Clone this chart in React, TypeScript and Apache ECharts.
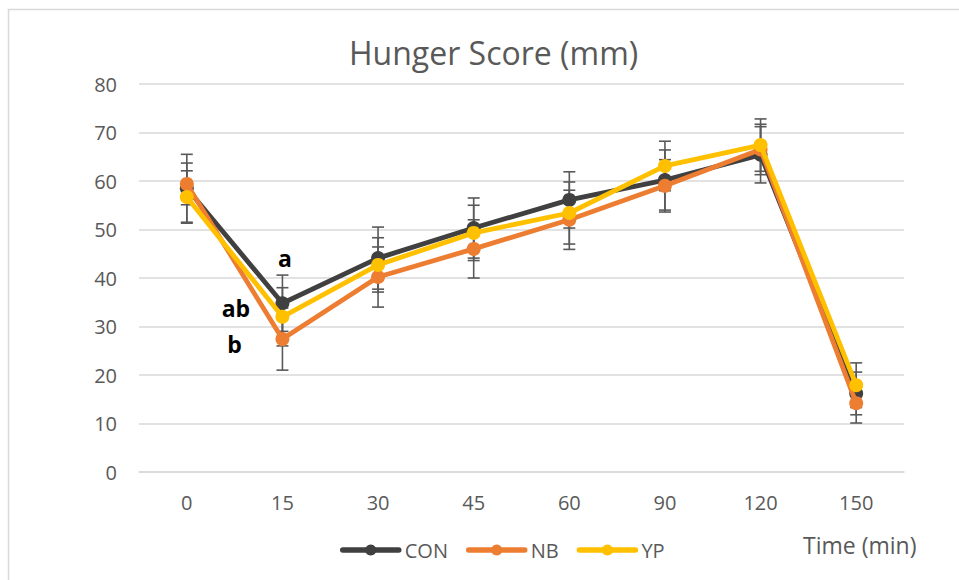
import React, { useEffect, useRef } from "react";
import * as echarts from "echarts";

const categories = ["0", "15", "30", "45", "60", "90", "120", "150"];
const seriesNames = ["CON", "NB", "YP"];
const conMean = [58.5, 34.8, 44.1, 50.3, 56.1, 60.2, 65.4, 16.2];
const nbMean = [59.4, 27.4, 40.2, 46.0, 52.0, 59.0, 66.5, 14.2];
const ypMean = [56.7, 32.0, 42.7, 49.3, 53.4, 63.1, 67.4, 17.9];
const conSD = [7.0, 5.8, 6.4, 6.2, 5.8, 6.2, 5.8, 4.4];
const nbSD = [4.3, 6.4, 6.2, 6.0, 6.1, 5.4, 5.2, 4.1];
const ypSD = [5.4, 6.0, 5.6, 5.7, 6.4, 5.1, 5.4, 4.6];
const conSig = ["", "a", "", "", "", "", "", ""];
const nbSig = ["", "b", "", "", "", "", "", ""];
const ypSig = ["", "ab", "", "", "", "", "", ""];
const yTicks = { min: 0, max: 80, interval: 10 };
const titleText = "Hunger Score (mm)";
const xAxisTitle = "Time (min)";

const FONT = "'Open Sans', sans-serif";
const TEXT = "#595959";
const GRID = "#d9d9d9";

const colors = ["#404040", "#ED7D31", "#FFC000"];
const means = [conMean, nbMean, ypMean];
const sds = [conSD, nbSD, ypSD];
const sigs = [conSig, nbSig, ypSig];
const sigOffsets: [number, number][] = [
  [2.5, -45],
  [-48, 5],
  [-46.5, -9],
];

export default function App() {
  const ref = useRef<HTMLDivElement>(null);
  useEffect(() => {
    if (!ref.current) return;
    const chart = echarts.init(ref.current, null, { renderer: "svg" });

    const errorSeries = means.map((m, si) => ({
      type: "custom",
      name: seriesNames[si] + "-err",
      z: 1,
      silent: true,
      encode: { x: 0, y: [1, 2] },
      data: m.map((v, i) => [i, v - sds[si][i], v + sds[si][i]]),
      renderItem: (params: any, api: any) => {
        const x = api.value(0);
        const lo = api.coord([x, api.value(1)]);
        const hi = api.coord([x, api.value(2)]);
        const w = 6;
        const style = { stroke: "#595959", lineWidth: 1.6 };
        return {
          type: "group",
          children: [
            { type: "line", shape: { x1: lo[0], y1: lo[1], x2: hi[0], y2: hi[1] }, style },
            { type: "line", shape: { x1: lo[0] - w, y1: lo[1], x2: lo[0] + w, y2: lo[1] }, style },
            { type: "line", shape: { x1: hi[0] - w, y1: hi[1], x2: hi[0] + w, y2: hi[1] }, style },
          ],
        };
      },
    }));

    const lineSeries = means.map((m, si) => ({
      type: "line",
      name: seriesNames[si],
      z: 2 + si,
      symbol: "circle",
      symbolSize: 14,
      lineStyle: { width: 4.8, color: colors[si] },
      itemStyle: { color: colors[si] },
      data: m.map((v, i) =>
        sigs[si][i]
          ? {
              value: v,
              label: {
                show: true,
                formatter: sigs[si][i],
                position: "inside",
                offset: sigOffsets[si],
                color: "#000",
                fontWeight: "bold",
                fontSize: 23,
                fontFamily: FONT,
              },
            }
          : v
      ),
    }));

    chart.setOption({
      animation: false,
      backgroundColor: "#fff",
      color: colors,
      title: {
        text: titleText,
        left: 344,
        top: 31,
        textStyle: { color: TEXT, fontSize: 32, fontWeight: "normal", fontFamily: FONT },
      },
      grid: { left: 139, right: 55, top: 84, bottom: 108, containLabel: false },
      legend: {
        data: seriesNames,
        left: 335,
        top: 535,
        itemWidth: 56,
        itemHeight: 14,
        itemGap: 18,
        lineStyle: { width: 5.5, cap: "round" },
        textStyle: { color: TEXT, fontSize: 20, fontFamily: FONT, padding: [0, 0, 0, 1] },
      },
      xAxis: {
        type: "category",
        data: categories,
        boundaryGap: true,
        axisLine: { show: true, lineStyle: { color: GRID, width: 1.5 } },
        axisTick: { show: false },
        axisLabel: { color: TEXT, fontSize: 20, fontFamily: FONT, margin: 20 },
      },
      yAxis: {
        type: "value",
        min: yTicks.min,
        max: yTicks.max,
        interval: yTicks.interval,
        axisLine: { show: false },
        axisTick: { show: false },
        axisLabel: { color: TEXT, fontSize: 20, fontFamily: FONT, margin: 22 },
        splitLine: { lineStyle: { color: GRID, width: 1.5 } },
      },
      graphic: [
        {
          type: "rect",
          shape: { x: 8.5, y: 9.5, width: 1000, height: 1000 },
          style: { fill: "none", stroke: GRID, lineWidth: 1.5 },
          silent: true,
        },
        {
          type: "text",
          left: 803,
          top: 533,
          style: { text: xAxisTitle, fill: TEXT, fontSize: 23, fontFamily: FONT },
        },
      ],
      series: [...errorSeries, ...lineSeries],
    });
    return () => chart.dispose();
  }, []);
  return (
    <div
      ref={ref}
      style={{ position: "absolute", left: 0, top: 0, width: 959, height: 580 }}
    />
  );
}
